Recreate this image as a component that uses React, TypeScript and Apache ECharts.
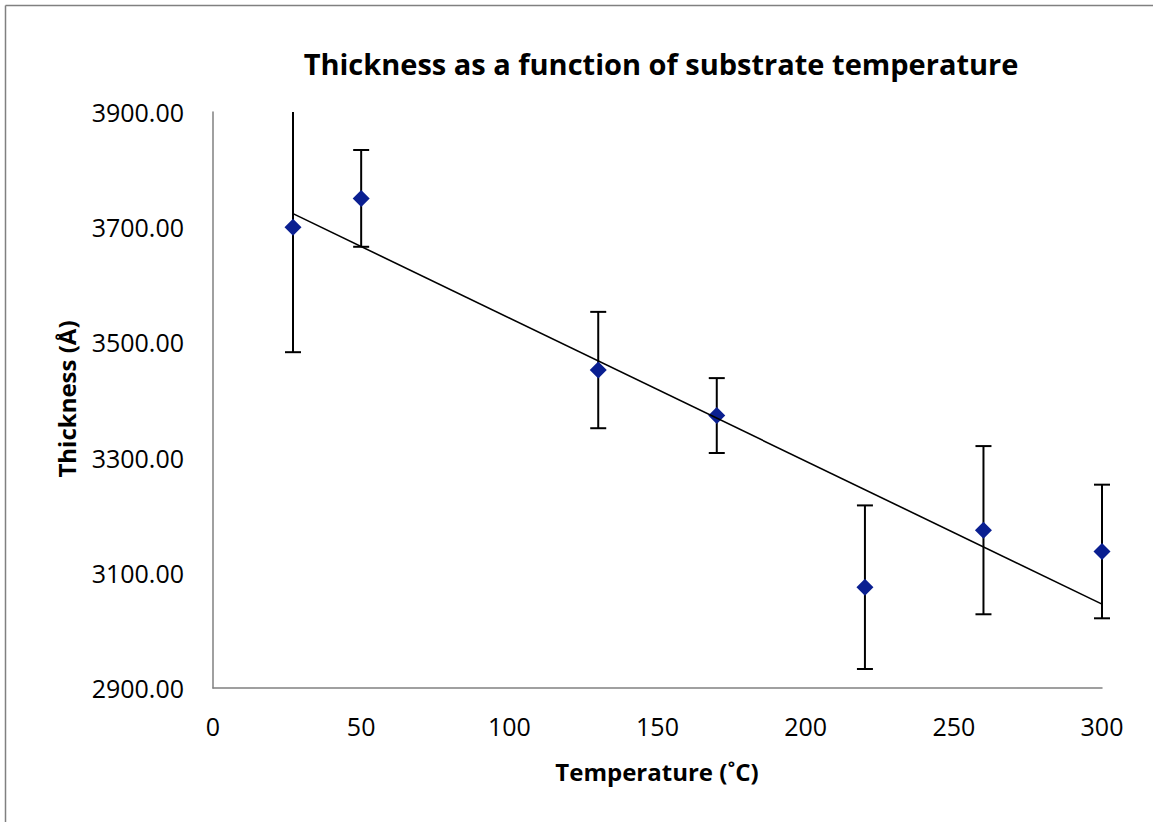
import React, { useEffect, useRef } from "react";
import * as echarts from "echarts";

const temperatures = [27, 50, 130, 170, 220, 260, 300];
const thickness = [3700, 3750, 3452, 3373, 3075, 3174, 3137];
const errors = [217, 84, 101, 65, 142, 146, 116];
const xTicks = { min: 0, max: 300, interval: 50 };
const yTicks = { min: 2900, max: 3900, interval: 200 };

const titleText = "Thickness as a function of substrate temperature";
const xName = "Temperature (˚C)";
const yName = "Thickness (Å)";

function regression(xs: number[], ys: number[]) {
  const n = xs.length;
  const mx = xs.reduce((a, b) => a + b, 0) / n;
  const my = ys.reduce((a, b) => a + b, 0) / n;
  let sxy = 0;
  let sxx = 0;
  for (let i = 0; i < n; i++) {
    sxy += (xs[i] - mx) * (ys[i] - my);
    sxx += (xs[i] - mx) * (xs[i] - mx);
  }
  const slope = sxy / sxx;
  const intercept = my - slope * mx;
  return (x: number) => intercept + slope * x;
}

export default function App() {
  const ref = useRef<HTMLDivElement>(null);
  useEffect(() => {
    if (!ref.current) return;
    const chart = echarts.init(ref.current, null, { renderer: "svg" });
    const fit = regression(temperatures, thickness);
    const xFirst = temperatures[0];
    const xLast = temperatures[temperatures.length - 1];
    const trend = [
      [xFirst, fit(xFirst)],
      [xLast, fit(xLast)],
    ];
    const errData = temperatures.map((t, i) => [t, thickness[i] - errors[i], thickness[i] + errors[i]]);
    const font = "'Open Sans', sans-serif";
    chart.setOption({
      animation: false,
      backgroundColor: "#ffffff",
      grid: { left: 213, right: 51, top: 112, bottom: 134 },
      xAxis: {
        type: "value",
        min: xTicks.min,
        max: xTicks.max,
        interval: xTicks.interval,
        splitLine: { show: false },
        axisTick: { show: false },
        axisLine: { lineStyle: { color: "#808080", width: 1.5 } },
        axisLabel: { color: "#000", fontSize: 25, fontFamily: font, margin: 25 },
      },
      yAxis: {
        type: "value",
        min: yTicks.min,
        max: yTicks.max,
        interval: yTicks.interval,
        splitLine: { show: false },
        axisTick: { show: false },
        axisLine: { show: true, lineStyle: { color: "#808080", width: 1.5 } },
        axisLabel: {
          color: "#000",
          fontSize: 25,
          fontFamily: font,
          margin: 29,
          formatter: (v: number) => v.toFixed(2),
        },
      },
      graphic: [
        {
          type: "line",
          shape: { x1: 5.5, y1: 5.5, x2: 1153, y2: 5.5 },
          style: { stroke: "#808080", lineWidth: 1.5 },
        },
        {
          type: "line",
          shape: { x1: 5.5, y1: 5.5, x2: 5.5, y2: 822 },
          style: { stroke: "#808080", lineWidth: 1.5 },
        },
        {
          type: "text",
          x: 661,
          y: 63,
          style: {
            text: titleText,
            fill: "#000",
            font: "bold 29px 'Open Sans', sans-serif",
            textAlign: "center",
            textVerticalAlign: "middle",
          },
        },
        {
          type: "text",
          x: 657,
          y: 771,
          style: {
            text: xName,
            fill: "#000",
            font: "bold 24px 'Open Sans', sans-serif",
            textAlign: "center",
            textVerticalAlign: "middle",
          },
        },
        {
          type: "text",
          x: 66,
          y: 399,
          rotation: Math.PI / 2,
          style: {
            text: yName,
            fill: "#000",
            font: "bold 24px 'Open Sans', sans-serif",
            textAlign: "center",
            textVerticalAlign: "middle",
          },
        },
      ],
      series: [
        {
          type: "custom",
          name: "errors",
          clip: false,
          z: 1,
          data: errData,
          renderItem: (params: any, api: any) => {
            const x = api.value(0);
            const top = api.coord([x, yTicks.max])[1];
            const bottom = api.coord([x, yTicks.min])[1];
            const lo = api.coord([x, api.value(1)]);
            const hi = api.coord([x, api.value(2)]);
            const half = 8;
            const style = { stroke: "#000", lineWidth: 2 };
            const loY = Math.min(lo[1], bottom);
            const hiY = Math.max(hi[1], top);
            const children: any[] = [
              { type: "line", shape: { x1: lo[0], y1: loY, x2: hi[0], y2: hiY }, style },
            ];
            if (lo[1] <= bottom) {
              children.push({ type: "line", shape: { x1: lo[0] - half, y1: lo[1], x2: lo[0] + half, y2: lo[1] }, style });
            }
            if (hi[1] >= top) {
              children.push({ type: "line", shape: { x1: hi[0] - half, y1: hi[1], x2: hi[0] + half, y2: hi[1] }, style });
            }
            return { type: "group", children };
          },
        },
        {
          type: "scatter",
          name: "thickness",
          z: 2,
          symbol: "diamond",
          symbolSize: 17,
          itemStyle: { color: "#0a1f91", opacity: 1 },
          data: temperatures.map((t, i) => [t, thickness[i]]),
        },
        {
          type: "line",
          name: "trend",
          z: 3,
          showSymbol: false,
          symbol: "none",
          lineStyle: { color: "#000", width: 1.6 },
          data: trend,
        },
      ],
    });
    return () => chart.dispose();
  }, []);
  return (
    <div
      ref={ref}
      style={{ position: "absolute", left: 0, top: 0, width: 1153, height: 822 }}
    />
  );
}
